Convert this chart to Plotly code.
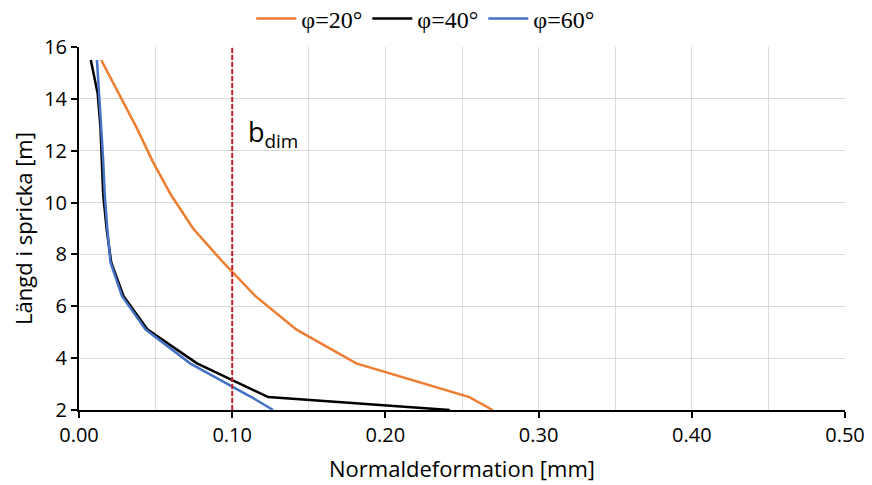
import plotly.graph_objects as go

# Length along the crack [m] (shared by all series)
langd = [15.5, 14.2, 12.9, 11.6, 10.3, 9.0, 7.7, 6.4, 5.1, 3.8, 2.5, 2.0]

# Normal deformation [mm] per friction angle
phi20 = [0.0145, 0.026, 0.0375, 0.048, 0.060, 0.0745, 0.094, 0.115, 0.142, 0.181, 0.2548, 0.270]
phi40 = [0.0077, 0.0122, 0.0140, 0.0150, 0.0158, 0.018, 0.021, 0.029, 0.0448, 0.077, 0.1235, 0.242]
phi60 = [0.0117, 0.0133, 0.0145, 0.0158, 0.0168, 0.0185, 0.0205, 0.028, 0.0435, 0.0725, 0.1125, 0.1267]

b_dim = 0.10
x_ticks = [0.0, 0.1, 0.2, 0.3, 0.4, 0.5]
y_ticks = [2, 4, 6, 8, 10, 12, 14, 16]

series = [
    ("φ=20°", phi20, "#ED7D31"),
    ("φ=40°", phi40, "#000000"),
    ("φ=60°", phi60, "#4472C4"),
]

fig = go.Figure()

for name, vals, color in series:
    fig.add_trace(go.Scatter(
        x=vals, y=langd, name=name, mode="lines",
        line=dict(color=color, width=2.5),
    ))

# b_dim reference line
fig.add_trace(go.Scatter(
    x=[b_dim, b_dim], y=[y_ticks[0], y_ticks[-1]], mode="lines",
    line=dict(color="#C8202A", width=2, dash="5px,2px"),
    showlegend=False, hoverinfo="skip",
))

fig.add_annotation(
    x=0.109, y=12.65, xref="x", yref="y", text="b<sub>dim</sub>",
    showarrow=False, xanchor="left", yanchor="middle",
    font=dict(family="Open Sans", size=27, color="#000000"),
)

tick_font = dict(family="Open Sans", size=20, color="#000000")
title_font = dict(family="Open Sans", size=22, color="#000000")

# page body adds an 8px offset, so the figure is a bit smaller than the window
fig.update_layout(
    width=864, height=477,
    margin=dict(l=71, r=27, t=39, b=75, autoexpand=False),
    plot_bgcolor="white", paper_bgcolor="white",
    showlegend=True,
    legend=dict(
        orientation="h", xref="container", yref="container",
        x=0.483, xanchor="center", y=0.977, yanchor="middle",
        font=dict(family="Liberation Serif", size=24, color="#000000"),
        itemwidth=40, tracegroupgap=0, bgcolor="rgba(0,0,0,0)",
    ),
    xaxis=dict(
        range=[0, 0.5], tickvals=x_ticks, tickformat=".2f",
        showgrid=True, gridcolor="#D9D9D9", gridwidth=1,
        minor=dict(dtick=0.05, showgrid=True, gridcolor="#D9D9D9", gridwidth=1),
        showline=True, linecolor="#000000", linewidth=2,
        ticks="outside", ticklen=6, tickcolor="#000000", tickwidth=2,
        zeroline=False, tickfont=tick_font, automargin=False,
        title=dict(text="Normaldeformation [mm]", font=title_font),
    ),
    yaxis=dict(
        range=[2, 16], tickvals=y_ticks,
        showgrid=True, gridcolor="#D9D9D9", gridwidth=1,
        showline=True, linecolor="#000000", linewidth=2,
        ticks="outside", ticklen=6, tickcolor="#000000", tickwidth=2,
        zeroline=False, tickfont=tick_font, automargin=True,
        title=dict(text="Längd i spricka [m]", font=title_font, standoff=6),
    ),
)

fig.write_html("out.html")
